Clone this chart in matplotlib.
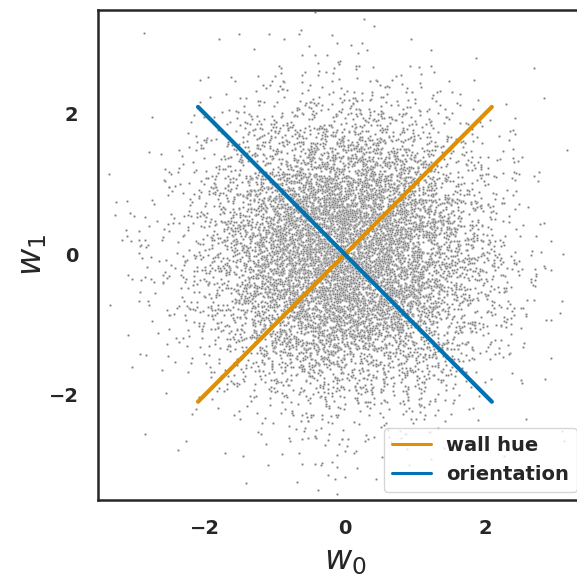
import numpy as np
import matplotlib
matplotlib.use("Agg")
import matplotlib.pyplot as plt
import seaborn as sns

# cloud of sampled weights (shown as a gray background)
n_points = 10000
cloud_std = 1.0
seed = 0

# direction lines
line_ends = [-2.1, 2.1]
wall_hue_y = [-2.1, 2.1]
orientation_y = [2.1, -2.1]
labels = ["wall hue", "orientation"]

ticks = [-2, 0, 2]

sns.set_theme(style="white")
pal = sns.color_palette("colorblind")

rng = np.random.default_rng(seed)
w = rng.normal(0, cloud_std, size=(n_points, 2))

fig = plt.figure(figsize=(5.77, 5.79), dpi=100)
ax = fig.add_axes([0.1698, 0.1364, 0.856, 0.8463])

ax.scatter(w[:, 0], w[:, 1], s=3, color="gray", edgecolor="white", linewidth=0.2)
ax.plot(line_ends, wall_hue_y, color=pal[1], lw=3, label=labels[0])
ax.plot(line_ends, orientation_y, color=pal[0], lw=3, label=labels[1])

ax.set_xlim(-3.53, 3.53)
ax.set_ylim(-3.5, 3.48)
ax.set_xticks(ticks)
ax.set_yticks(ticks)
ax.set_xticklabels([str(t).replace("-", "\u2212") for t in ticks], fontsize=14, fontweight="bold")
ax.set_yticklabels([str(t).replace("-", "\u2212") for t in ticks], fontsize=14, fontweight="bold")
ax.tick_params(pad=8)
ax.set_xlabel("$w_0$", fontsize=24)
ax.set_ylabel("$w_1$", fontsize=24, labelpad=0)
for s in ax.spines.values():
    s.set_color("#262626")
    s.set_linewidth(1.8)

leg = ax.legend(loc="lower left", bbox_to_anchor=(384 / 577, 1 - 492 / 579),
                bbox_transform=fig.transFigure, prop={"weight": "bold", "size": 14},
                handlelength=2.0, labelspacing=0.55, borderaxespad=0)
for h in leg.legend_handles:
    h.set_linewidth(2.2)

fig.savefig("out.png", dpi=100)
